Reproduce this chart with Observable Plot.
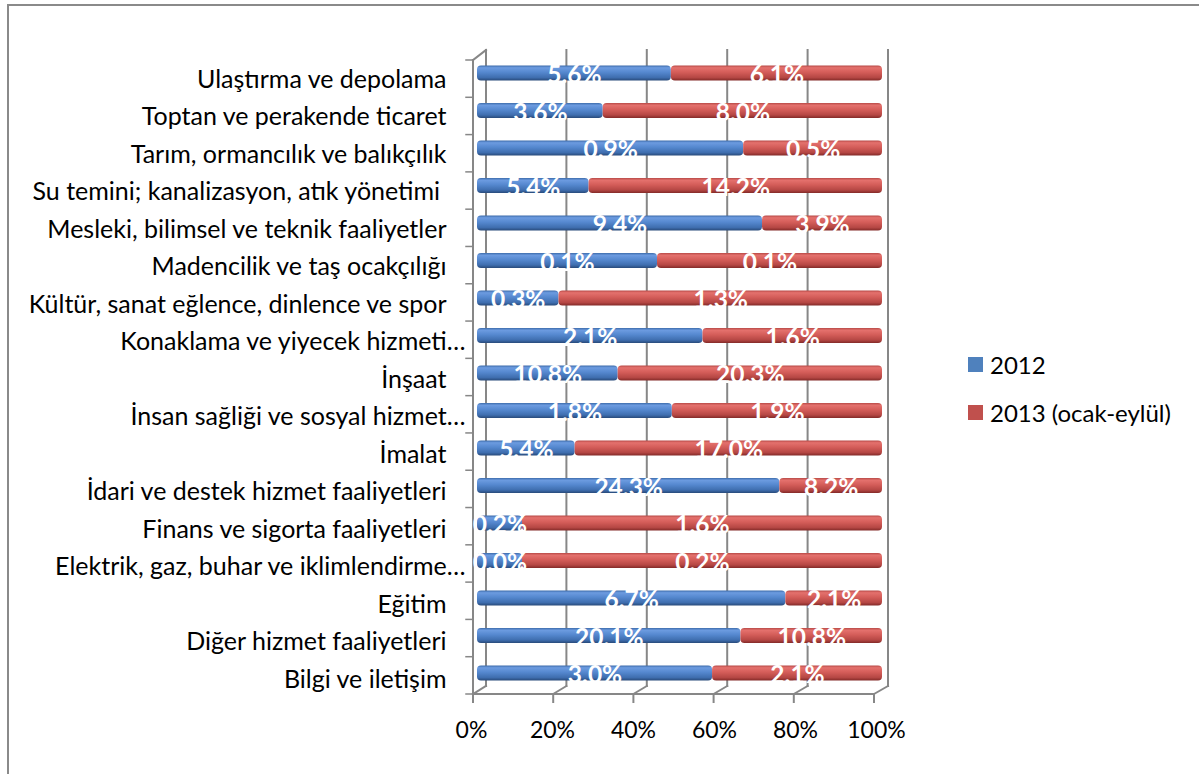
<!DOCTYPE html>
<html>
<head>
<meta charset="utf-8">
<script src="https://cdn.jsdelivr.net/npm/d3@7"></script>
<script src="https://cdn.jsdelivr.net/npm/@observablehq/plot@0.6"></script>
<style>
  html, body { margin: 0; padding: 0; background: #fff; }
  #wrap { position: relative; width: 1199px; height: 774px; overflow: hidden; font-family: Lato, "Noto Sans", sans-serif; }
  #wrap svg { position: absolute; left: 0; top: 0; }
  #wrap svg text { white-space: pre; }
  #border { position: absolute; left: 7px; top: 4px; right: -10px; bottom: -10px; border-top: 2px solid #8a8a8a; border-left: 2px solid #8a8a8a; pointer-events: none; }
  .leg { position: absolute; left: 968px; display: flex; align-items: center; font-size: 24px; color: #000; }
  .leg .sw { width: 15px; height: 15px; margin-right: 7px; }
</style>
</head>
<body>
<div id="wrap"><div id="border"></div></div>
<script>
// categories, top to bottom
const categories = [
  "Ulaştırma ve depolama",
  "Toptan ve perakende ticaret",
  "Tarım, ormancılık ve balıkçılık",
  "Su temini; kanalizasyon, atık yönetimi ",
  "Mesleki, bilimsel ve teknik faaliyetler",
  "Madencilik ve taş ocakçılığı",
  "Kültür, sanat eğlence, dinlence ve spor",
  "Konaklama ve yiyecek hizmeti…",
  "İnşaat",
  "İnsan sağliği ve sosyal hizmet…",
  "İmalat",
  "İdari ve destek hizmet faaliyetleri",
  "Finans ve sigorta faaliyetleri",
  "Elektrik, gaz, buhar ve iklimlendirme…",
  "Eğitim",
  "Diğer hizmet faaliyetleri",
  "Bilgi ve iletişim"
];
const series = ["2012", "2013 (ocak-eylül)"];
const v2012 = [5.6, 3.6, 0.92, 5.4, 9.36, 0.08, 0.32, 2.06, 10.8, 1.78, 5.4, 24.26, 0.2, 0.02, 6.7, 20.1, 2.96];
const v2013 = [6.1, 8.0, 0.48, 14.2, 3.94, 0.1, 1.27, 1.64, 20.3, 1.92, 17.0, 8.24, 1.6, 0.16, 2.1, 10.8, 2.14];
const xTicks = [0, 20, 40, 60, 80, 100];
const colors = ["#4f81bd", "#c0504d"];

const rows = categories.flatMap((c, i) => [
  {cat: c, series: series[0], value: v2012[i]},
  {cat: c, series: series[1], value: v2013[i]}
]);
const fmt = d3.format(".1f");
const isTrunc = c => c.endsWith("…");

// 3D chart-wall decoration drawn from the plot's own scales
function wall(index, scales, values, dims) {
  const x = scales.x;
  const top = dims.marginTop, bottom = dims.height - dims.marginBottom;
  const xf = v => x(v) - 4 - 4 * v;   // front plane
  const xb = v => x(v) + 9 - 3 * v;   // back plane
  const ft = top + 2, fb = bottom + 6, bt = top - 8, bb = bottom - 2;
  const g = d3.create("svg:g").attr("stroke", "#878787").attr("fill", "none").attr("stroke-linecap", "square");
  const ts = xTicks.map(t => t / 100);
  for (const t of ts) {
    g.append("line").attr("x1", xb(t)).attr("x2", xb(t)).attr("y1", bt).attr("y2", bb).attr("stroke-width", 2);
    g.append("line").attr("x1", xb(t)).attr("x2", xf(t)).attr("y1", bb).attr("y2", fb).attr("stroke-width", 2);
    g.append("line").attr("x1", xf(t)).attr("x2", xf(t)).attr("y1", fb).attr("y2", fb + 8).attr("stroke-width", 2);
  }
  g.append("line").attr("x1", xf(0)).attr("x2", xf(1)).attr("y1", fb).attr("y2", fb).attr("stroke-width", 2);
  g.append("line").attr("x1", xf(0)).attr("x2", xf(0)).attr("y1", ft).attr("y2", fb).attr("stroke-width", 2);
  g.append("line").attr("x1", xf(0)).attr("x2", xb(0)).attr("y1", ft).attr("y2", bt).attr("stroke-width", 2);
  const n = categories.length;
  for (let i = 0; i <= n; i++) {
    const yy = ft + (fb - ft) * i / n;
    g.append("line").attr("x1", xf(0) - 7).attr("x2", xf(0)).attr("y1", yy).attr("y2", yy).attr("stroke-width", 1.5);
  }
  return g.node();
}

const chart = Plot.plot({
  width: 1199,
  height: 774,
  marginLeft: 477,
  marginRight: 317,
  marginTop: 58,
  marginBottom: 86,
  style: {fontFamily: "Lato, 'Noto Sans', sans-serif", background: "transparent", color: "#000"},
  x: {domain: [0, 1], axis: null},
  y: {domain: categories, axis: null, paddingInner: 0.6, paddingOuter: 0.2, round: false},
  color: {domain: series, range: ["url(#gBlue)", "url(#gRed)"]},
  marks: [
    wall,
    Plot.barX(rows, Plot.stackX({x: "value", y: "cat", fill: "series", offset: "normalize", order: series, rx: 4})),
    Plot.text(rows, Plot.stackX({
      x: "value", y: "cat", z: "series", offset: "normalize", order: series,
      text: d => fmt(d.value) + "%", fill: "white", fontWeight: "bold", fontSize: 24.5, dy: 2
    })),
    Plot.text(categories.filter(c => !isTrunc(c)), {y: d => d, frameAnchor: "left", textAnchor: "end", dx: -31, dy: 6, fontSize: 25, fill: "#000"}),
    Plot.text(categories.filter(isTrunc), {y: d => d, frameAnchor: "left", textAnchor: "end", dx: -12, dy: 6, fontSize: 25, fill: "#000"}),
    Plot.axisX(xTicks.map(t => t / 100), {tickSize: 0, tickPadding: 33, dx: -6, fontSize: 23, tickFormat: d => Math.round(d * 100) + "%", label: null, fill: "#000"})
  ]
});

chart.insertAdjacentHTML("afterbegin", `
<defs>
  <linearGradient id="gBlue" x1="0" y1="0" x2="0" y2="1">
    <stop offset="0" stop-color="#3d6cab"/>
    <stop offset="0.15" stop-color="#6c9be0"/>
    <stop offset="0.45" stop-color="#5588cf"/>
    <stop offset="0.8" stop-color="#3f6eaf"/>
    <stop offset="1" stop-color="#284a7a"/>
  </linearGradient>
  <linearGradient id="gRed" x1="0" y1="0" x2="0" y2="1">
    <stop offset="0" stop-color="#b84a47"/>
    <stop offset="0.15" stop-color="#e4716d"/>
    <stop offset="0.45" stop-color="#d45d59"/>
    <stop offset="0.8" stop-color="#b54744"/>
    <stop offset="1" stop-color="#832a28"/>
  </linearGradient>
</defs>`);

const wrap = document.getElementById("wrap");
wrap.insertBefore(chart, wrap.firstChild);

series.forEach((s, i) => {
  const d = document.createElement("div");
  d.className = "leg";
  d.style.top = (i === 0 ? 350 : 398) + "px";
  d.innerHTML = `<span class="sw" style="background:${colors[i]}"></span><span>${s}</span>`;
  wrap.appendChild(d);
});
</script>
</body>
</html>
